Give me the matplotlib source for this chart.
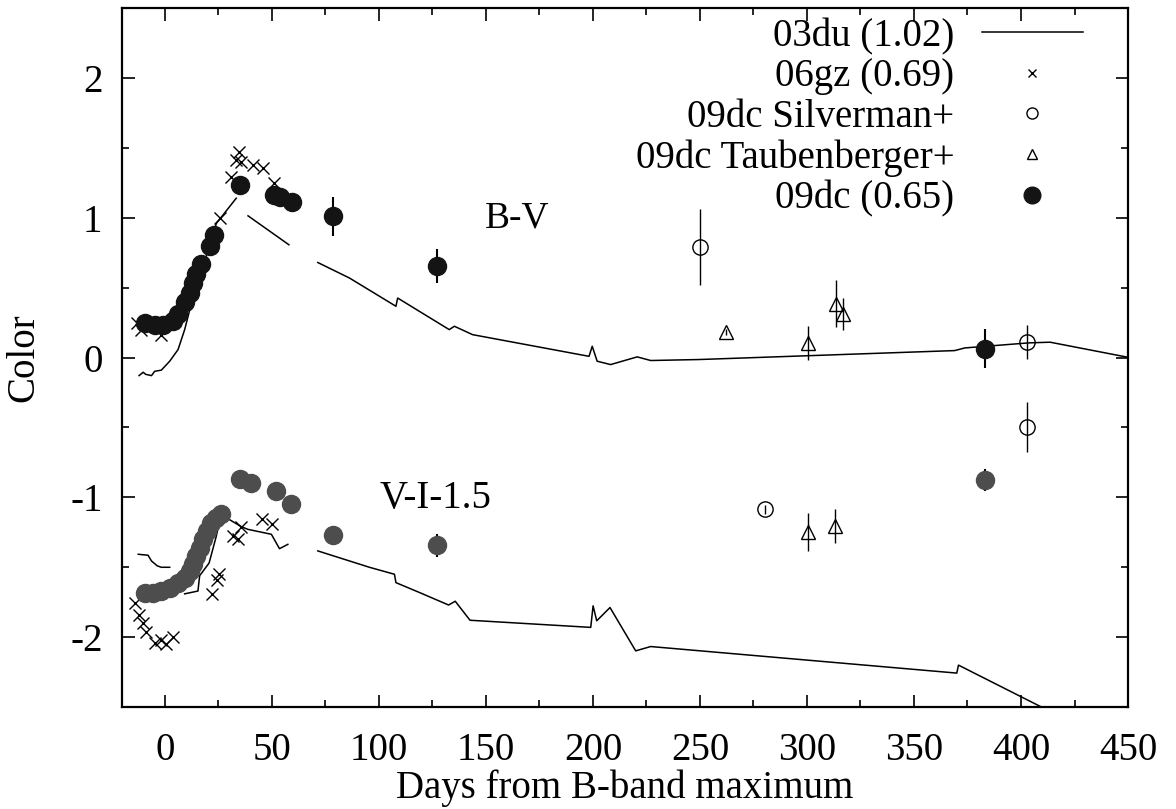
import numpy as np
import matplotlib
matplotlib.use("Agg")
import matplotlib.pyplot as plt
from matplotlib.ticker import MultipleLocator
from matplotlib.lines import Line2D

# 03du (1.02) model curves, nan = gap in the line
du_bv_day = [-12, -10.1, -8.9, -6.2, -4.7, -1.6, 2.3, 6.2, 9.3, 11.7, 24.1, 30.3, 33.4, np.nan,
             38.9, 58, np.nan, 71.5, 86.3, 108, 108.8, 132.9, 135.3, 143.8, 198.2, 199.7, 202,
             208.3, 220.7, 227, 249.5, 369, 373.8, 403.5, 413.6, 450]
du_bv_col = [-0.129, -0.105, -0.12, -0.129, -0.098, -0.09, -0.026, 0.057, 0.2, 0.343, 0.96, 1.08, 1.14, np.nan,
             1.014, 0.807, np.nan, 0.68, 0.569, 0.367, 0.426, 0.2, 0.224, 0.164, 0.009, 0.081, -0.026,
             -0.05, 0.005, -0.021, -0.014, 0.05, 0.069, 0.105, 0.11, 0.002]
du_vi_day = [-12.4, -7.8, -6.2, -3.5, -1.6, 2.3, np.nan, 9.3, 15.5, 16.3, 20.7, 24.1, 26, 30, 35.8,
             38.9, 49.8, 53.6, 57.5, np.nan, 71.5, 95.6, 107.3, 108, 118.9, 132.6, 135.7, 142.6,
             199, 200.1, 201.8, 208, 220, 227, 370, 370.8, 409.6]
du_vi_col = [-1.407, -1.414, -1.455, -1.49, -1.5, -1.5, np.nan, -1.69, -1.67, -1.56, -1.47, -1.276, -1.14, -1.157, -1.21,
             -1.229, -1.264, -1.367, -1.336, np.nan, -1.383, -1.5, -1.55, -1.61, -1.68, -1.77, -1.743, -1.879,
             -1.93, -1.776, -1.883, -1.788, -2.098, -2.067, -2.257, -2.2, -2.5]

# 06gz (0.69)
gz_bv_day = [-13.2, -10.9, -1.6, 25.7, 31.1, 33.4, 34.7, 35.8, 41.2, 45.9, 50.8]
gz_bv_col = [0.248, 0.2, 0.164, 1.0, 1.29, 1.414, 1.47, 1.4, 1.38, 1.355, 1.25]
gz_vi_day = [-14, -12, -10.1, -8.6, -4.7, -1.6, 0.5, 3.9, 22.2, 24.4, 25.2, 31.9, 34.2, 35.8, 45.6, 50.2]
gz_vi_col = [-1.757, -1.84, -1.9, -1.96, -2.04, -2.02, -2.05, -2.0, -1.69, -1.59, -1.55, -1.276, -1.3, -1.21, -1.157, -1.19]

# 09dc Silverman+
sil_bv_day = [250, 403]
sil_bv_col = [0.79, 0.112]
sil_bv_err = [0.27, 0.12]
sil_vi_day = [280.6, 403]
sil_vi_col = [-1.086, -0.498]
sil_vi_err = [0.03, 0.18]

# 09dc Taubenberger+
tau_bv_day = [262.3, 300.7, 313.8, 316.9]
tau_bv_col = [0.181, 0.105, 0.386, 0.314]
tau_bv_err = [0.02, 0.12, 0.17, 0.115]
tau_vi_day = [300.4, 313.3]
tau_vi_col = [-1.248, -1.205]
tau_vi_err = [0.137, 0.12]

# 09dc (0.65)
dc_bv_day = [-9.3, -4.7, -0.8, 3.9, 6.2, 9.3, 11.7, 13.2, 14.8, 17.1, 21, 22.9, 35.3, 51, 54, 59.6, 78.8, 127, 383.2]
dc_bv_col = [0.25, 0.236, 0.236, 0.26, 0.31, 0.4, 0.46, 0.53, 0.6, 0.67, 0.8, 0.88, 1.236, 1.16, 1.15, 1.11, 1.01, 0.657, 0.064]
dc_bv_err = [0] * 16 + [0.14, 0.12, 0.137]
dc_vi_day = [-9.3, -5.4, -1.6, 2.3, 6.2, 9.3, 11.7, 13.2, 14.8, 16.3, 17.9, 19.7, 21.8, 24.1, 26.1,
             35, 40.4, 51.8, 59.1, 78.5, 127, 383.2]
dc_vi_col = [-1.681, -1.681, -1.669, -1.645, -1.61, -1.574, -1.526, -1.479, -1.419, -1.36, -1.3, -1.24, -1.18, -1.145, -1.12,
             -0.867, -0.895, -0.955, -1.05, -1.27, -1.343, -0.876]
dc_vi_err = [0] * 20 + [0.08, 0.08]

plt.rcParams['font.family'] = 'Liberation Serif'
plt.rcParams['axes.unicode_minus'] = False
plt.rcParams['font.size'] = 28

fig = plt.figure(figsize=(11.76, 8.09), dpi=100)
ax = fig.add_axes([0.1037, 0.126, 0.8555, 0.864])

ax.plot(du_bv_day, du_bv_col, color='black', lw=1.1)
ax.plot(du_vi_day, du_vi_col, color='black', lw=1.1)

ax.plot(gz_bv_day, gz_bv_col, 'x', color='black', ms=8, mew=1.0)
ax.plot(gz_vi_day, gz_vi_col, 'x', color='black', ms=8, mew=1.0)

ax.errorbar(sil_bv_day, sil_bv_col, yerr=sil_bv_err, fmt='o', mfc='none', mec='black', ecolor='black',
            ms=11, mew=1.0, elinewidth=1.0, capsize=0)
ax.errorbar(sil_vi_day, sil_vi_col, yerr=sil_vi_err, fmt='o', mfc='none', mec='black', ecolor='black',
            ms=11, mew=1.0, elinewidth=1.0, capsize=0)

ax.errorbar(tau_bv_day, tau_bv_col, yerr=tau_bv_err, fmt='^', mfc='none', mec='black', ecolor='black',
            ms=10, mew=1.0, elinewidth=1.0, capsize=0)
ax.errorbar(tau_vi_day, tau_vi_col, yerr=tau_vi_err, fmt='^', mfc='none', mec='black', ecolor='black',
            ms=10, mew=1.0, elinewidth=1.0, capsize=0)

ax.errorbar(dc_bv_day, dc_bv_col, yerr=dc_bv_err, fmt='o', mfc='#141414', mec='#141414', ecolor='black',
            ms=13, elinewidth=1.5, capsize=0, zorder=3)
ax.errorbar(dc_vi_day, dc_vi_col, yerr=dc_vi_err, fmt='o', mfc='#4d4d4d', mec='#4d4d4d', ecolor='black',
            ms=13, elinewidth=1.5, capsize=0, zorder=3)

ax.text(164.7, 1.0, 'B-V', ha='center', va='center', fontsize=27)
ax.text(126.7, -1.01, 'V-I-1.5', ha='center', va='center', fontsize=28)

ax.set_xlim(-20, 450)
ax.set_ylim(-2.5, 2.5)
ax.xaxis.set_major_locator(MultipleLocator(50))
ax.xaxis.set_minor_locator(MultipleLocator(25))
ax.yaxis.set_major_locator(MultipleLocator(1))
ax.yaxis.set_minor_locator(MultipleLocator(0.5))
ax.tick_params(which='both', direction='in', top=True, right=True, width=1.2)
ax.tick_params(which='major', length=9)
ax.tick_params(axis='x', which='major', pad=18)
ax.tick_params(axis='y', which='major', pad=14)
ax.tick_params(which='minor', length=5)
for s in ax.spines.values():
    s.set_linewidth(1.6)

ax.set_xlabel('Days from B-band maximum', labelpad=0)
ax.set_ylabel('Color', labelpad=20)

handles = [
    Line2D([], [], color='black', lw=1.1),
    Line2D([], [], marker='x', ls='none', color='black', ms=6, mew=1.0),
    Line2D([], [], marker='o', ls='none', mfc='none', mec='black', ms=8, mew=1.0),
    Line2D([], [], marker='^', ls='none', mfc='none', mec='black', ms=7, mew=1.0),
    Line2D([], [], marker='o', ls='none', color='#141414', ms=12),
]
labels = ['03du (1.02)', '06gz (0.69)', '09dc Silverman+', '09dc Taubenberger+', '09dc (0.65)']
ax.legend(handles, labels, loc='upper right', bbox_to_anchor=(0.955, 0.986), frameon=False,
          markerfirst=False, handlelength=2.6, handletextpad=0.7, labelspacing=0.09,
          borderaxespad=0, borderpad=0)

fig.savefig('out.png', dpi=100)
